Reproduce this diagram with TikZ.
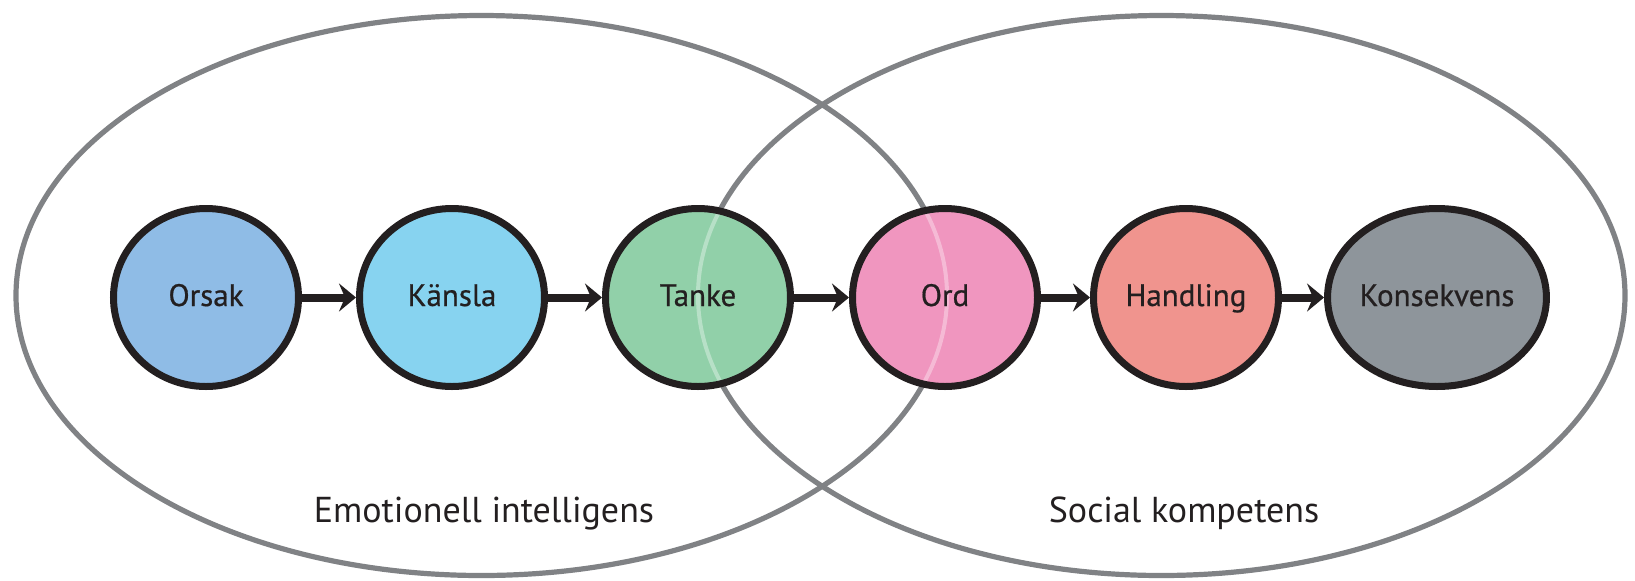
\documentclass[tikz,border=0pt]{standalone}
\usepackage{fontspec}
\setmainfont{PT Sans}
\newfontfamily\stagefont[FakeBold=0.6]{PT Sans}
\usetikzlibrary{arrows.meta,shapes.geometric}
\definecolor{ink}{HTML}{231F20}
\definecolor{ring}{HTML}{808285}
\definecolor{cOrsak}{HTML}{8FBCE6}
\definecolor{cKansla}{HTML}{87D3F0}
\definecolor{cTanke}{HTML}{91D0A9}
\definecolor{cOrd}{HTML}{F096BF}
\definecolor{cHandling}{HTML}{F0948E}
\definecolor{cKons}{HTML}{8E959B}
\begin{document}
\begin{tikzpicture}[x=0.5pt,y=-0.5pt,
  setring/.style={draw=ring, line width=2.6pt},
  stage/.style={ellipse, draw=ink, line width=3.5pt, minimum width=92.5pt,
    minimum height=89pt, inner sep=0pt, text=ink,
    text height=11pt, text depth=2.5pt,
    font=\stagefont\fontsize{15.5}{18}\selectfont,
    path picture={
      \draw[white, opacity=0.35, line width=2pt] (cL) ellipse [x radius=232.75pt, y radius=140pt];
      \draw[white, opacity=0.35, line width=2pt] (cR) ellipse [x radius=231.75pt, y radius=140pt];
    }},
  flow/.style={draw=ink, line width=4pt, -{Stealth[length=8.5pt,width=14pt,inset=3pt]}},
  setlabel/.style={text=ink, font=\fontsize{18}{22}\selectfont, anchor=base, inner sep=0pt}
]
\useasboundingbox (0,0) rectangle (1635,580);
\coordinate (cL) at (481.5,295.5);
\coordinate (cR) at (1161.5,295.5);
\draw[setring] (cL) ellipse [x radius=232.75pt, y radius=140pt];
\draw[setring] (cR) ellipse [x radius=231.75pt, y radius=140pt];

\node[stage, fill=cOrsak]    (orsak)  at (206,297.5)  {Orsak};
\node[stage, fill=cKansla]   (kansla) at (452,297.5)  {Känsla};
\node[stage, fill=cTanke]    (tanke)  at (698,297.5)  {Tanke};
\node[stage, fill=cOrd]      (ord)    at (945,297.5)  {Ord};
\node[stage, fill=cHandling] (handl)  at (1186,297.5) {Handling};
\node[stage, fill=cKons]     (kons)   at (1437,297.5) {Konsekvens};

\draw[flow] (orsak) -- (kansla);
\draw[flow] (kansla) -- (tanke);
\draw[flow] (tanke) -- (ord);
\draw[flow] (ord) -- (handl);
\draw[flow] (handl) -- (kons);

\node[setlabel] (ei) at (484,522) {Emotionell intelligens};
\node[setlabel] (sk) at (1184,522) {Social kompetens};
\end{tikzpicture}
\end{document}
